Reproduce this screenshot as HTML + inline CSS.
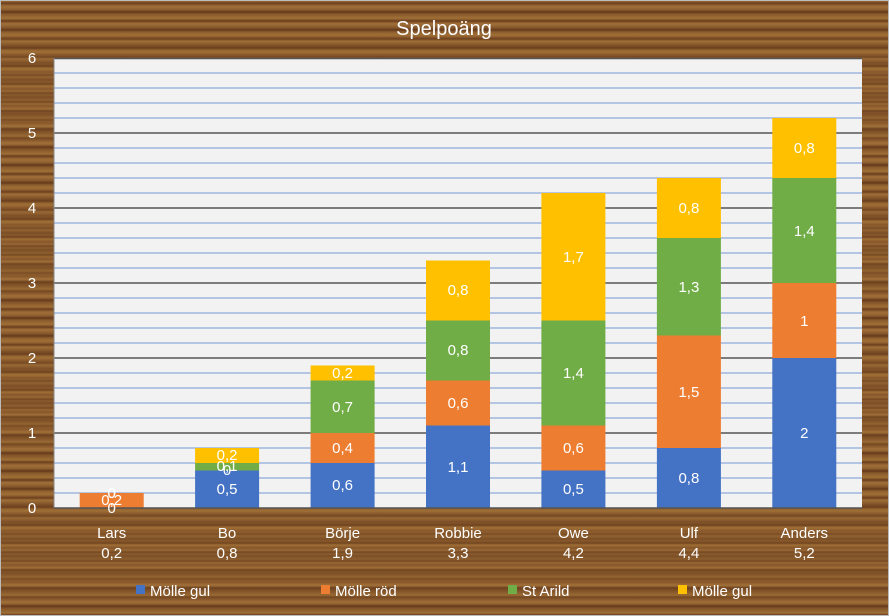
<!DOCTYPE html>
<html><head><meta charset="utf-8"><style>
html,body{margin:0;padding:0}
body{width:889px;height:616px;overflow:hidden;font-family:"Liberation Sans",sans-serif}
#w{position:absolute;left:0;top:0;width:887px;height:614px;border:1px solid #bbb;
background:
repeating-linear-gradient(180deg,rgba(70,30,10,0) 0px,rgba(70,30,10,.45) 2px,rgba(70,30,10,0) 4px,rgba(0,0,0,0) 9px),
repeating-linear-gradient(180deg,rgba(200,150,70,.35) 0px,rgba(120,70,30,.2) 3px,rgba(210,160,80,.3) 6px,rgba(90,50,20,.3) 11px,rgba(200,150,70,.35) 17px),
#8a5a2e;}
svg{position:absolute;left:0;top:0}
</style></head><body><div id="w"></div>
<svg width="889" height="616" font-family="Liberation Sans, sans-serif">
<rect x="54" y="58" width="808" height="450" fill="#f2f2f2"/>
<g stroke="#9fb6e0" stroke-width="1.5">
<line x1="54" x2="862" y1="73" y2="73"/><line x1="54" x2="862" y1="88" y2="88"/><line x1="54" x2="862" y1="103" y2="103"/><line x1="54" x2="862" y1="118" y2="118"/>
<line x1="54" x2="862" y1="148" y2="148"/><line x1="54" x2="862" y1="163" y2="163"/><line x1="54" x2="862" y1="178" y2="178"/><line x1="54" x2="862" y1="193" y2="193"/>
<line x1="54" x2="862" y1="223" y2="223"/><line x1="54" x2="862" y1="238" y2="238"/><line x1="54" x2="862" y1="253" y2="253"/><line x1="54" x2="862" y1="268" y2="268"/>
<line x1="54" x2="862" y1="298" y2="298"/><line x1="54" x2="862" y1="313" y2="313"/><line x1="54" x2="862" y1="328" y2="328"/><line x1="54" x2="862" y1="343" y2="343"/>
<line x1="54" x2="862" y1="373" y2="373"/><line x1="54" x2="862" y1="388" y2="388"/><line x1="54" x2="862" y1="403" y2="403"/><line x1="54" x2="862" y1="418" y2="418"/>
<line x1="54" x2="862" y1="448" y2="448"/><line x1="54" x2="862" y1="463" y2="463"/><line x1="54" x2="862" y1="478" y2="478"/><line x1="54" x2="862" y1="493" y2="493"/>
</g>
<g stroke="#555" stroke-width="1.5">
<line x1="54" x2="862" y1="58.5" y2="58.5"/><line x1="54" x2="862" y1="133" y2="133"/><line x1="54" x2="862" y1="208" y2="208"/><line x1="54" x2="862" y1="283" y2="283"/><line x1="54" x2="862" y1="358" y2="358"/><line x1="54" x2="862" y1="433" y2="433"/>
</g>
<line x1="54" x2="54" y1="58" y2="508" stroke="#888" stroke-width="1"/>
<g>
<rect x="79.7" y="493" width="64" height="15" fill="#ed7d31"/>
<rect x="195.1" y="470.5" width="64" height="37.5" fill="#4472c4"/><rect x="195.1" y="463" width="64" height="7.5" fill="#70ad47"/><rect x="195.1" y="448" width="64" height="15" fill="#ffc000"/>
<rect x="310.6" y="463" width="64" height="45" fill="#4472c4"/><rect x="310.6" y="433" width="64" height="30" fill="#ed7d31"/><rect x="310.6" y="380.5" width="64" height="52.5" fill="#70ad47"/><rect x="310.6" y="365.5" width="64" height="15" fill="#ffc000"/>
<rect x="426" y="425.5" width="64" height="82.5" fill="#4472c4"/><rect x="426" y="380.5" width="64" height="45" fill="#ed7d31"/><rect x="426" y="320.5" width="64" height="60" fill="#70ad47"/><rect x="426" y="260.5" width="64" height="60" fill="#ffc000"/>
<rect x="541.4" y="470.5" width="64" height="37.5" fill="#4472c4"/><rect x="541.4" y="425.5" width="64" height="45" fill="#ed7d31"/><rect x="541.4" y="320.5" width="64" height="105" fill="#70ad47"/><rect x="541.4" y="193" width="64" height="127.5" fill="#ffc000"/>
<rect x="656.9" y="448" width="64" height="60" fill="#4472c4"/><rect x="656.9" y="335.5" width="64" height="112.5" fill="#ed7d31"/><rect x="656.9" y="238" width="64" height="97.5" fill="#70ad47"/><rect x="656.9" y="178" width="64" height="60" fill="#ffc000"/>
<rect x="772.3" y="358" width="64" height="150" fill="#4472c4"/><rect x="772.3" y="283" width="64" height="75" fill="#ed7d31"/><rect x="772.3" y="178" width="64" height="105" fill="#70ad47"/><rect x="772.3" y="118" width="64" height="60" fill="#ffc000"/>
</g>
<line x1="54" x2="862" y1="508" y2="508" stroke="#555" stroke-width="1.5"/>
<g fill="#fff" font-size="15" text-anchor="middle">
<text x="111.7" y="513">0</text><text x="111.7" y="505">0,2</text><text x="111.7" y="498">0</text><text x="111.7" y="498">0</text>
<text x="227.1" y="494">0,5</text><text x="227.1" y="475">0</text><text x="227.1" y="471">0,1</text><text x="227.1" y="460">0,2</text>
<text x="342.6" y="490">0,6</text><text x="342.6" y="453">0,4</text><text x="342.6" y="412">0,7</text><text x="342.6" y="378">0,2</text>
<text x="458" y="472">1,1</text><text x="458" y="408">0,6</text><text x="458" y="355">0,8</text><text x="458" y="295">0,8</text>
<text x="573.4" y="494">0,5</text><text x="573.4" y="453">0,6</text><text x="573.4" y="378">1,4</text><text x="573.4" y="262">1,7</text>
<text x="688.9" y="483">0,8</text><text x="688.9" y="397">1,5</text><text x="688.9" y="292">1,3</text><text x="688.9" y="213">0,8</text>
<text x="804.3" y="438">2</text><text x="804.3" y="326">1</text><text x="804.3" y="236">1,4</text><text x="804.3" y="153">0,8</text>
</g>
<g fill="#fff" font-size="15" text-anchor="middle">
<text x="32" y="63">6</text><text x="32" y="138">5</text><text x="32" y="213">4</text><text x="32" y="288">3</text><text x="32" y="363">2</text><text x="32" y="438">1</text><text x="32" y="513">0</text>
<text x="111.7" y="538">Lars</text><text x="111.7" y="558">0,2</text>
<text x="227.1" y="538">Bo</text><text x="227.1" y="558">0,8</text>
<text x="342.6" y="538">Börje</text><text x="342.6" y="558">1,9</text>
<text x="458" y="538">Robbie</text><text x="458" y="558">3,3</text>
<text x="573.4" y="538">Owe</text><text x="573.4" y="558">4,2</text>
<text x="688.9" y="538">Ulf</text><text x="688.9" y="558">4,4</text>
<text x="804.3" y="538">Anders</text><text x="804.3" y="558">5,2</text>
<text x="444" y="35" font-size="20">Spelpoäng</text>
</g>
<g font-size="15" fill="#fff">
<rect x="136" y="585" width="9" height="9" fill="#4472c4"/><text x="150" y="596">Mölle gul</text>
<rect x="321" y="585" width="9" height="9" fill="#ed7d31"/><text x="335" y="596">Mölle röd</text>
<rect x="508" y="585" width="9" height="9" fill="#70ad47"/><text x="522" y="596">St Arild</text>
<rect x="678" y="585" width="9" height="9" fill="#ffc000"/><text x="692" y="596">Mölle gul</text>
</g>
</svg></body></html>
